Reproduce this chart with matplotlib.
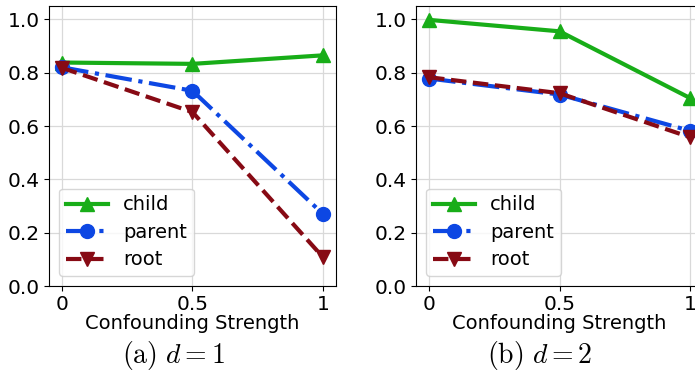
import numpy as np
import matplotlib
matplotlib.use("Agg")
import matplotlib.pyplot as plt

parameters = {'axes.labelsize': 14,
              'xtick.labelsize': 14.5,
              'ytick.labelsize': 14.5,
              'legend.fontsize': 14,
              'lines.linewidth': 3,
              'lines.markersize': 10,
              'mathtext.fontset': 'cm'}
plt.rcParams.update(parameters)

strength = [0, 0.5, 1]
xticklabels = ["0", "0.5", "1"]

# d = 1
child_d1 = [0.838, 0.833, 0.865]
parent_d1 = [0.82, 0.732, 0.27]
root_d1 = [0.818, 0.652, 0.108]

# d = 2
child_d2 = [0.998, 0.955, 0.705]
parent_d2 = [0.778, 0.718, 0.582]
root_d2 = [0.783, 0.723, 0.558]

captions = [r"$\mathrm{(a)}\ d=1$", r"$\mathrm{(b)}\ d=2$"]
series = [(child_d1, parent_d1, root_d1), (child_d2, parent_d2, root_d2)]

green = "#18ad18"
blue = "#0d47e3"
red = "#870a14"

fig = plt.figure(figsize=(6.95, 3.74), dpi=100)
lefts = [49 / 695, 416 / 695]
caption_x = [174 / 695, 540 / 695]

for i in range(2):
    ax = fig.add_axes([lefts[i], 88 / 374, 287 / 695, 280 / 374])
    child, parent, root = series[i]
    ax.plot(strength, child, color=green, marker="^", ls="-", label="child")
    ax.plot(strength, parent, color=blue, marker="o", ls="-.", label="parent")
    ax.plot(strength, root, color=red, marker="v", ls="--", label="root")
    ax.set_xlim(-0.05, 1.05)
    ax.set_ylim(0, 1.05)
    ax.set_yticks([0, 0.2, 0.4, 0.6, 0.8, 1.0])
    ax.set_xticks(strength)
    ax.set_xticklabels(xticklabels)
    ax.tick_params(pad=3)
    ax.grid(True, color="#d9d9d9", lw=0.9)
    ax.set_axisbelow(True)
    ax.set_xlabel("Confounding Strength", labelpad=0)
    ax.legend(loc="lower left", handlelength=2.2, borderpad=0.35,
              labelspacing=0.44, handletextpad=0.75, borderaxespad=0.5)
    fig.text(caption_x[i], 19 / 374, captions[i],
             ha="center", va="center", fontsize=20)

plt.savefig("out.png", dpi=100)
